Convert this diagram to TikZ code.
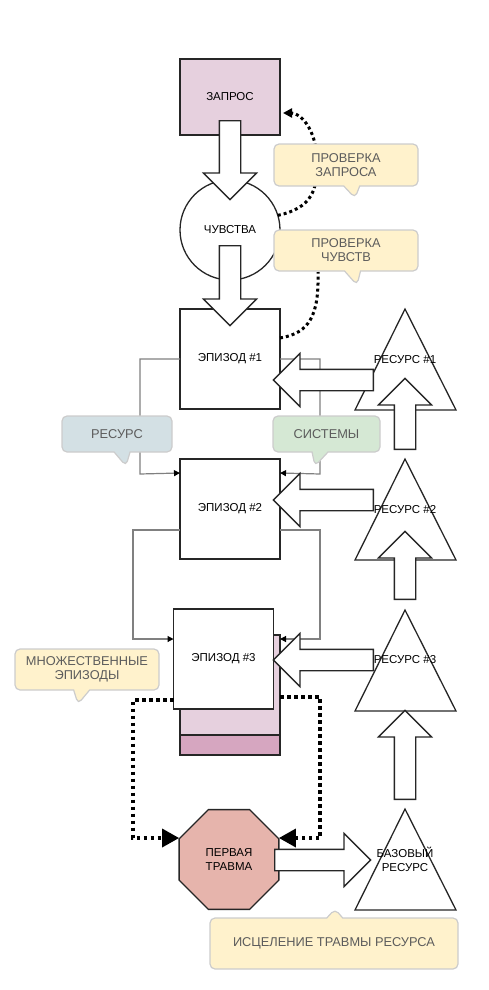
\documentclass[tikz,border=0pt]{standalone}
\usepackage{fontspec}
\setmainfont{Liberation Sans}
\usetikzlibrary{positioning, calc, arrows.meta, shapes.geometric, shapes.arrows, shapes.callouts}
\definecolor{zapfill}{HTML}{E6D0DE}
\definecolor{stackdark}{HTML}{D6A6C0}
\definecolor{traumafill}{HTML}{E6B4AC}
\definecolor{noteyellow}{HTML}{FFF2CC}
\definecolor{noteblue}{HTML}{D3E0E4}
\definecolor{notegreen}{HTML}{D5E8D4}
\definecolor{notetext}{HTML}{5C5C5C}
\definecolor{linkgray}{HTML}{808080}

\begin{document}
\begin{tikzpicture}[x=1pt, y=-1pt,
    box/.style={rectangle, draw=black!85, line width=1.3pt, outer sep=0pt, minimum width=100pt, minimum height=100pt, font=\fontsize{11.5}{14}\selectfont},
    tri/.style={draw=black!85, line width=1.3pt},
    lbl/.style={font=\fontsize{11.5}{14}\selectfont, align=center, inner sep=0pt},
    bigarrow/.style={single arrow, draw=black!85, fill=white, line width=1.3pt, inner sep=0pt, inner ysep=10pt, single arrow head extend=16pt, minimum width=52pt, anchor=tail},
    link/.style={draw=linkgray, line width=1.2pt, -{Triangle[length=6pt,width=6pt,color=black]}},
    dotcurve/.style={line width=3pt, dash pattern=on 3pt off 3pt},
    dotbig/.style={line width=3.5pt, dash pattern=on 3.5pt off 3.5pt, -{Triangle[length=17pt,width=18pt]}},
    bubble/.style={rectangle callout, rounded corners=5pt, draw=black!20, line width=1.2pt, text=notetext, font=\fontsize{12.8}{14}\selectfont, align=center, inner sep=0pt, callout pointer width=16pt}]
  \useasboundingbox (0,0) rectangle (488,990);

  % main column
  \node[box, fill=zapfill, minimum height=76pt] (zapros) at (230,97) {ЗАПРОС};
  \node[box, circle, below=45pt of zapros] (chuv) {ЧУВСТВА};
  \node[box, below=29pt of chuv] (ep1) {ЭПИЗОД \#1};
  \node[box, below=50pt of ep1] (ep2) {ЭПИЗОД \#2};
  \node[box, fill=zapfill, anchor=north] (stack1) at (230,635) {};
  \node[box, fill=stackdark, minimum height=20pt, below=0pt of stack1] (stack2) {};
  \node[box, fill=white, below=50pt of ep2, xshift=-6.5pt] (ep3) {ЭПИЗОД \#3};
  \node[box, regular polygon, regular polygon sides=8, minimum size=108pt, fill=traumafill, align=center, inner sep=0pt] (trauma) at (229,859.5) {ПЕРВАЯ\\ТРАВМА};

  % gray links between episodes
  \draw[link] (ep1.west) -| (140,474) -- ($(ep2.north west)+(0,14)$);
  \draw[link] (ep1.east) -| (320,474) -- ($(ep2.north east)+(0,14)$);
  \draw[link] ($(ep2.south west)+(0,-29)$) -| (133,639) -- ($(ep3.north west)+(0,30)$);
  \draw[link] ($(ep2.south east)+(0,-29)$) -| (320,639) -- ($(stack1.north east)+(0,4)$);

  % resources
  \foreach \ty in {309,459,610,809}
    \draw[tri] (355,\ty+101) -- (405,\ty) -- (456,\ty+101) -- cycle;
  \node[lbl] (res1) at (405,360) {РЕСУРС \#1};
  \node[lbl] (res2) at (405,510) {РЕСУРС \#2};
  \node[lbl] (res3) at (405,660) {РЕСУРС \#3};
  \node[lbl] (base) at (405,859) {БАЗОВЫЙ\\РЕСУРС};

  % dotted checks
  \draw[dotcurve, -{Triangle[length=9pt,width=9pt]}] (chuv.17) .. controls (312,208) and (318,190) .. (317,160) .. controls (316,128) and (300,113) .. ($(zapros.east)+(3,16)$);
  \draw[dotcurve] ($(ep1.north east)+(0,29)$) .. controls (310,333) and (319,315) .. (318,272);
  \coordinate (dl) at (133,838);
  \coordinate (dr) at (320,838);
  \draw[dotbig] ($(ep3.south west)+(0,-9)$) -| (dl) -- (trauma.west |- dl);
  \draw[dotbig] ($(stack1.east)+(0,12)$) -| (dr) -- (trauma.east |- dr);

  % block arrows
  \node[bigarrow, rotate=-90, minimum height=79pt] (zap2chuv) at (230,120) {};
  \node[bigarrow, rotate=-90, minimum height=80pt] (chuv2ep) at (230,245) {};
  \node[bigarrow, rotate=180, minimum height=100pt] (res1ep) at (374,380) {};
  \node[bigarrow, rotate=180, minimum height=100pt] (res2ep) at (374,500) {};
  \node[bigarrow, rotate=180, minimum height=100pt] (res3ep) at (374,660) {};
  \node[bigarrow, rotate=90, minimum height=71pt] (res2up) at (405,450) {};
  \node[bigarrow, rotate=90, minimum height=68pt] (res3up) at (405,600) {};
  \node[bigarrow, rotate=90, minimum height=89pt] (baseup) at (405,800) {};
  \node[bigarrow, minimum height=96pt] (heal) at (274,860) {};

  % notes
  \node[bubble, fill=noteyellow, minimum width=144pt, minimum height=42pt, callout absolute pointer={(355,198)}] (chkZap) at (346,165) {ПРОВЕРКА\\ЗАПРОСА};
  \node[bubble, fill=noteyellow, minimum width=144pt, minimum height=41pt, callout absolute pointer={(357,285)}] (chkChuv) at (346,250.5) {ПРОВЕРКА\\ЧУВСТВ};
  \node[bubble, fill=noteblue, minimum width=110pt, minimum height=36pt, callout absolute pointer={(126,466)}] (noteRes) at (117,434) {РЕСУРС};
  \node[bubble, fill=notegreen, minimum width=107pt, minimum height=36pt, callout absolute pointer={(315,466)}] (noteSys) at (326.5,434) {СИСТЕМЫ};
  \node[bubble, fill=noteyellow, minimum width=144pt, minimum height=41pt, callout absolute pointer={(78,704)}] (noteMulti) at (87,669.5) {МНОЖЕСТВЕННЫЕ\\ЭПИЗОДЫ};
  \node[bubble, fill=noteyellow, minimum width=248pt, minimum height=51pt, callout absolute pointer={(335,909)}] (noteHeal) at (334,943.5) {ИСЦЕЛЕНИЕ ТРАВМЫ РЕСУРСА};
\end{tikzpicture}
\end{document}
